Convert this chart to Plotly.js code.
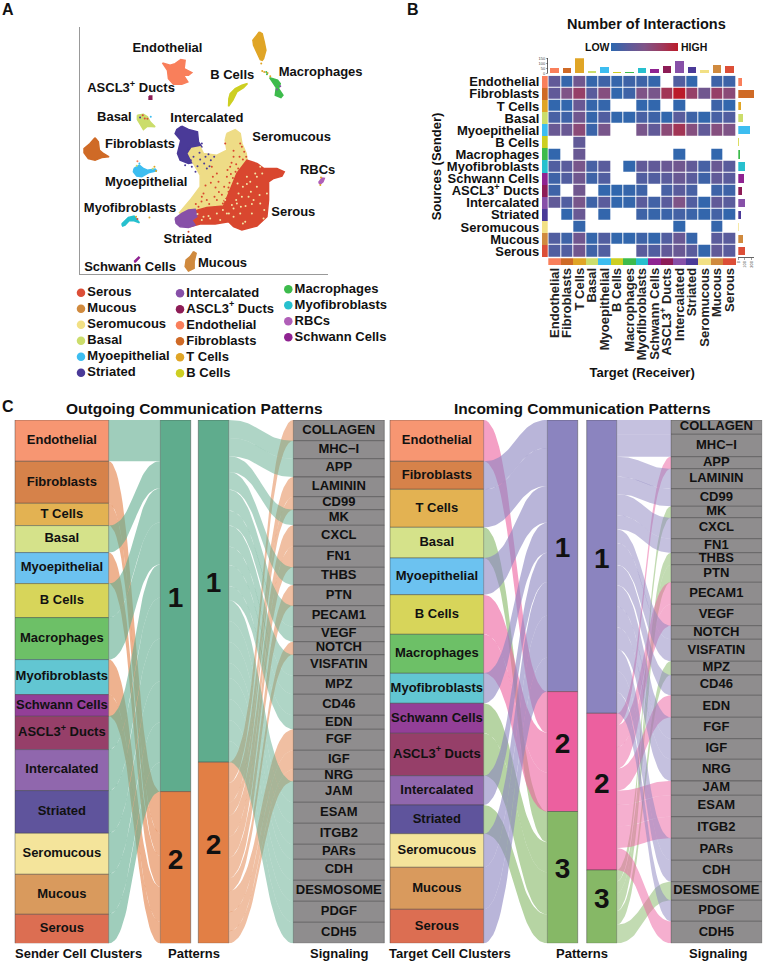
<!DOCTYPE html>
<html><head><meta charset="utf-8"><script src="https://cdn.plot.ly/plotly-3.0.1.min.js"></script>
<style>html,body{margin:0;padding:0;background:#fff}#c{width:764px;height:963px}</style></head>
<body><div id="c"></div>
<script>
// ---------- shared names ----------
const clusters = ['Endothelial','Fibroblasts','T Cells','Basal','Myoepithelial','B Cells','Macrophages','Myofibroblasts','Schwann Cells','ASCL3<sup>+</sup> Ducts','Intercalated','Striated','Seromucous','Mucous','Serous'];
const clusterColors = ['#F97F5B','#CF6A26','#E0A526','#CBDD6B','#3DBDF0','#CDCF22','#3DBB4C','#27C0CE','#8F2391','#8D1C56','#8750A8','#4A3A98','#F2E084','#D08A3E','#DC4E37'];
// ---------- Panel C values ----------
const nodeColors = ['#F79672','#D6824A','#E3B252','#D5E28A','#6CC2F0','#D7D55A','#6DC067','#62C6D2','#933F98','#963F69','#9067AD','#5F549C','#F4E49B','#D99A5D','#DC6E52'];
const senderValues = [41.3,42,22.3,27,31,34,42,35,21.7,33.3,41,42.7,41,40,29.3];
const senderPattern = [1,2,2,1,2,1,1,2,2,1,1,1,1,1,1];
const targetValues = [41.3,28,38,30.7,36.7,39.6,39,30,30,42.4,29.3,28.7,33.6,42,34];
const targetPattern = [2,1,1,3,1,2,2,1,3,3,1,3,1,1,1];
const signaling = ['COLLAGEN','MHC\u2212I','APP','LAMININ','CD99','MK','CXCL','FN1','THBS','PTN','PECAM1','VEGF','NOTCH','VISFATIN','MPZ','CD46','EDN','FGF','IGF','NRG','JAM','ESAM','ITGB2','PARs','CDH','DESMOSOME','PDGF','CDH5'];
const outSignalValues = [20.7,18,18.3,19.7,13,15.6,21,21,17.7,20.7,21,15,13,21,18.6,21,14,21,19,12,21,21,21,15,21,21,21,21];
const outSignalPattern = [2,1,1,2,2,1,2,2,1,2,1,1,2,1,1,1,1,2,2,2,1,1,1,1,1,1,1,1];
const inSignalValues = [14.3,22.4,12,20,17.6,11.4,21,14,12,17.6,22,21.4,13.6,22,13.7,20.3,22,21.4,20.6,21.7,14.3,21.4,21.6,22,21.4,18.6,21,22];
const inSignalPattern = [1,1,2,1,1,3,1,1,3,3,2,2,1,1,3,1,2,1,1,1,2,2,2,1,1,3,1,2];
const outPatternColors = ['#5FAC8D','#E27F45'];
const inPatternColors = ['#8B84BF','#EC609F','#86B866'];
const signalColor = '#8F8D8E';
// ---------- Panel B values ----------
const _ = null;
const interactions = [
 [3,0.5,4,0.5,1,0.5,1,1,0.5,_,2,0.3,_,1,1],
 [3,5,7,2.5,5.5,0.3,1,5,4.5,8,10,7,4,7,6],
 [0.3,0.3,3.5,0.5,0.5,_,_,0.3,0.3,_,0.3,_,_,1,0.3],
 [1.5,1,4,0.5,2,0.3,0.3,1.5,1,0.3,2.5,1,0.3,1.5,2],
 [3.5,3.5,6,0.8,4.5,_,_,4.5,3,6,8,5.5,3,5.5,5],
 [_,_,3,_,_,_,_,_,_,_,_,_,_,_,_],
 [0.3,_,3.5,_,_,_,_,_,_,_,0.3,_,_,0.3,_],
 [2,2.5,4.5,1.5,2.5,_,0.3,3,3,3.5,4,3,1.5,3.5,2.5],
 [1,2,4,1,2,_,_,2,2,2.5,3.5,2.5,1,3,2.5],
 [1,_,4,_,0.3,0.2,0.5,1,_,1.5,2.5,1.5,_,1,1],
 [3,2,4.5,1,2.5,0.3,0.5,2.5,1.2,2.5,5,2,0.4,3,2.5],
 [_,0.3,3.5,_,0.4,_,_,1,0.6,0.8,1.3,0.8,0.4,1.3,0.4],
 [_,_,0.5,_,_,_,_,_,_,_,0.3,_,_,0.5,_],
 [2,1,4,0.5,2,0.3,0.3,1,0.4,2,3.5,0.6,_,2.5,2.5],
 [2,2,4,1,2,_,_,2.5,2,3,3.5,2.5,0.4,3,2.5]];
const incomingTotals = [50,50,150,27,60,13,17,53,40,77,120,63,30,80,70];
const outgoingTotals = [60,235,35,65,170,15,20,95,80,50,95,40,10,65,95];
// ---------- Panel A values (UMAP outlines) ----------
const umapNames = ['Striated','Seromucous','Serous','Intercalated','T Cells','Endothelial','B Cells','Macrophages','ASCL3+ Ducts','Basal','Fibroblasts','Myoepithelial','Myofibroblasts','Schwann Cells','Mucous','RBCs'];
const umapColors = ['#4A3A98','#EEDC86','#D9472F','#8750A8','#E0A526','#F97F5B','#CDCF22','#3DBB4C','#8D1C56','#CBDD6B','#CF6A26','#3DBDF0','#27C0CE','#8F2391','#D08A3E','#B05FB8'];
const umapX = [
 [365,385,412,415,425,405,385,395,410,385,360,352,362,345,350],
 [500,525,540,545,558,562,560,520,420,370,358,390,420,420,400,385,395,420,430,470,500,495],
 [590,610,650,672,665,640,625,625,620,590,545,520,505,465,420,390,385,405,405,440,490,510,530,560],
 [345,365,385,405,410,395,405,385,360,348],
 [597,606,612,617,610,606,600,592,580,578,588],
 [307,330,345,362,375,372,395,385,370,383,365,340,325,322],
 [562,550,530,518,505,506,510,525,545],
 [628,652,660,655,668,662,645,648,640],
 [267,275,275,267],
 [232,250,262,270,285,262,250,240,232],
 [105,115,118,130,147,125,105,85,72,72,90],
 [222,238,250,262,285,290,265,245,230,220],
 [185,205,222,235,238,222,207,195,188],
 [222,236,238,226],
 [400,408,402,402,385,375,378,390],
 [775,785,792,788,780]];
const umapY = [
 [378,388,395,425,440,445,450,470,485,490,480,460,420,400,388],
 [400,388,400,430,460,490,540,640,650,650,638,600,560,525,490,460,445,440,460,465,450,420],
 [490,505,505,515,528,535,545,600,650,678,690,680,665,672,672,680,675,655,632,622,618,570,520,480],
 [655,640,630,628,650,660,675,682,680,670],
 [95,100,125,150,175,180,178,160,135,120,108],
 [188,195,190,178,180,205,217,225,225,245,252,252,235,210],
 [250,262,275,300,318,295,280,265,255],
 [232,240,250,265,285,292,285,262,250],
 [287,287,297,297],
 [345,342,350,365,380,378,388,370,358],
 [413,425,450,460,470,472,480,475,458,445,430],
 [505,495,505,510,507,512,518,530,528,515],
 [672,652,648,662,668,662,662,675,678],
 [785,771,773,786],
 [755,760,785,805,813,800,780,770],
 [547,534,535,545,552]];
const redSpeckX = [430,452,470,488,505,495,520,540,552,470,440,415,500,545,510,530,480,455,385,383,476,492,508,463,447,518,526,498,485,436,424,458,502,514,538,548,558,534,475,466,492,512,505,528,425,407,520];
const redSpeckY = [580,548,520,610,575,430,470,430,455,600,600,620,530,440,500,590,640,500,695,708,576,560,548,590,612,534,515,596,584,556,604,530,510,488,470,478,470,505,545,562,602,522,562,492,590,612,452];
const yellowSpeckX = [560,590,600,575,540,610,530,565,585,480,450,520,620,555,600,548,500,430,495,535,548,560,572,528,542,556,520,515,580,598,570,612,506,488,470,445,425,412,532,590,606,575,545];
const yellowSpeckY = [530,560,610,640,640,655,610,590,520,660,655,650,580,665,500,670,640,650,600,580,560,552,575,600,620,618,625,615,600,585,545,630,640,630,640,648,660,642,550,530,520,612,590];
const indigoSpeckX = [400,420,432,445,412,395,385,440,425,375,452,418,406,392,436,448,462];
const indigoSpeckY = [470,478,490,462,498,500,445,505,430,495,480,458,515,480,470,498,470];
const mixedSpeckX = [603,606,618,630,660,782,780,240,248,262,272,232,230,283,228,232,268,650,622,238,254,278,288,620,612];
const mixedSpeckY = [190,212,215,228,258,532,555,352,345,356,350,483,497,500,650,657,652,268,218,490,355,506,513,222,215];
const mixedSpeckC = ['#E0A526','#E0A526','#3DBB4C','#E0A526','#8750A8','#E0A526','#E0A526','#4A3A98','#DC4E37','#DC4E37','#3DBDF0','#F97F5B','#CBDD6B','#E0A526','#E0A526','#DC4E37','#E0A526','#8750A8','#E0A526','#3DBDF0','#DC4E37','#CBDD6B','#E0A526','#3DBB4C','#E0A526'];
const umapLabels = ['T Cells','Endothelial','B Cells','Macrophages','ASCL3<sup>+</sup> Ducts','Basal','Intercalated','Fibroblasts','Seromucous','RBCs','Myoepithelial','Myofibroblasts','Serous','Striated','Schwann Cells','Mucous'];
const umapLabelX = [572,322,516,781,213,163,440,240,694,772,258,210,699,383,210,487];
const umapLabelY = [68,146,225,218,267,353,357,433,414,512,547,627,639,719,802,790];
// ---------- Legend ----------
const legendCol1 = ['Serous','Mucous','Seromucous','Basal','Myoepithelial','Striated'];
const legendCol2 = ['Intercalated','ASCL3<sup>+</sup> Ducts','Endothelial','Fibroblasts','T Cells','B Cells'];
const legendCol3 = ['Macrophages','Myofibroblasts','RBCs','Schwann Cells'];
const legendColors1 = ['#DC4E37','#D08A3E','#F2E084','#CBDD6B','#3DBDF0','#4A3A98'];
const legendColors2 = ['#8750A8','#8D1C56','#F97F5B','#CF6A26','#E0A526','#CDCF22'];
const legendColors3 = ['#3DBB4C','#27C0CE','#B05FB8','#8F2391'];

// ---------- helpers ----------
const W=764,H=963,FF='Liberation Sans, Arial, sans-serif';
const dx=(a,b)=>[a/W,b/W], dy=(a,b)=>[1-b/H,1-a/H];
const bold=(s,c)=>({family:FF,size:s,color:c||'#111',weight:700});
const traces=[];
const rgba=(h,a)=>{const n=parseInt(h.slice(1),16);return `rgba(${n>>16},${(n>>8)&255},${n&255},${a})`;};
const stack=v=>{let s=0;return v.map(d=>{const r=s;s+=d;return r;});};

function nodeBar(xl,xr,base,vals,cols,labels,size){
  traces.push({type:'bar',xaxis:'x7',yaxis:'y7',x:vals.map(()=>(xl+xr)/2),width:vals.map(()=>xr-xl),base:base,y:vals,
    marker:{color:cols,line:{color:'rgba(60,60,60,0.55)',width:0.8}},hoverinfo:'skip',showlegend:false});
  traces.push({type:'scatter',mode:'text',xaxis:'x7',yaxis:'y7',x:vals.map(()=>(xl+xr)/2),
    y:vals.map((d,i)=>base[i]+d/2-(size>20?6:0)),text:labels,textfont:bold(size),textposition:'middle center',cliponaxis:false,hoverinfo:'skip',showlegend:false});
}
function bez(t){const m=1-t;return [3*m*m*t*0.5+3*m*t*t*0.5+t*t*t,3*m*t*t+t*t*t];}
function ribbon(xa,xb,a0,a1,b0,b1,color){
  const N=36,px=[],py=[];
  for(let i=0;i<=N;i++){const u=bez(i/N);px.push(xa+(xb-xa)*u[0]);py.push(a0+(b0-a0)*u[1]);}
  for(let i=N;i>=0;i--){const u=bez(i/N);px.push(xa+(xb-xa)*u[0]);py.push(a1+(b1-a1)*u[1]);}
  traces.push({type:'scatter',mode:'lines',xaxis:'x7',yaxis:'y7',x:px,y:py,fill:'toself',fillcolor:color,line:{width:0},hoverinfo:'skip',showlegend:false});
}
function alluvial(nodeVals,nodePat,nodeCols,nodeLabels,nodeXL,nodeXR,patXL,patXR,patColors,alpha,nodeOnLeft){
  const starts=stack(nodeVals);
  const patTot=patColors.map((_c,p)=>nodeVals.reduce((s,v,i)=>s+(nodePat[i]===p+1?v:0),0));
  const patStart=stack(patTot);const cursor=patStart.slice();
  nodeVals.forEach((v,i)=>{const p=nodePat[i]-1,s=cursor[p];cursor[p]+=v;
    if(nodeOnLeft) ribbon(nodeXR,patXL,starts[i],starts[i]+v,s,s+v,rgba(patColors[p],alpha));
    else ribbon(patXR,nodeXL,s,s+v,starts[i],starts[i]+v,rgba(patColors[p],alpha));
  });
  nodeBar(nodeXL,nodeXR,starts,nodeVals,nodeCols,nodeLabels,13);
  nodeBar(patXL,patXR,patStart,patTot,patColors,patColors.map((_c,p)=>String(p+1)),28);
}
// ---------- Panel A traces ----------
umapNames.forEach((n,i)=>traces.push({type:'scatter',mode:'lines',name:n,x:umapX[i].concat(umapX[i][0]),y:umapY[i].concat(umapY[i][0]),
  fill:'toself',fillcolor:umapColors[i],line:{color:umapColors[i],width:1.5},hoverinfo:'name',showlegend:false}));
[[redSpeckX,redSpeckY,'#D9472F'],[yellowSpeckX,yellowSpeckY,'#F2E6A6'],[indigoSpeckX,indigoSpeckY,'#4A3A98'],[mixedSpeckX,mixedSpeckY,mixedSpeckC]].forEach(s=>
  traces.push({type:'scatter',mode:'markers',x:s[0],y:s[1],marker:{size:2,color:s[2]},hoverinfo:'skip',showlegend:false}));
traces.push({type:'scatter',mode:'text',x:umapLabelX,y:umapLabelY,text:umapLabels,textfont:bold(13),cliponaxis:false,hoverinfo:'skip',showlegend:false});
// ---------- Legend traces ----------
function legendCol(names,cols,xDot,yTop){
  const xs=names.map(()=>xDot),ys=names.map((_n,i)=>yTop+16*i);
  traces.push({type:'scatter',mode:'markers+text',xaxis:'x8',yaxis:'y8',x:xs,y:ys,text:names,textposition:'middle right',textfont:bold(13),
    marker:{size:8.5,color:cols},cliponaxis:false,hoverinfo:'skip',showlegend:false});
}
legendCol(legendCol1,legendColors1,81,292.7);
legendCol(legendCol2,legendColors2,180,293.3);
legendCol(legendCol3,legendColors3,288.3,289.3);
// ---------- Panel B traces ----------
traces.push({type:'heatmap',xaxis:'x2',yaxis:'y2',x:clusters,y:clusters,z:interactions,xgap:1,ygap:1,zmin:0,zmax:10,hoverongaps:false,
  colorscale:[[0,'#2C68AF'],[0.25,'#5A5C9C'],[0.5,'#7F5487'],[0.75,'#9C3B60'],[1,'#BB1B2A']],
  colorbar:{orientation:'h',lenmode:'pixels',len:67,thickness:7.5,xpad:0,ypad:0,x:644.8/W,xanchor:'center',y:1-50.7/H,yanchor:'bottom',outlinewidth:0,showticklabels:false,ticks:''}});
traces.push({type:'bar',xaxis:'x3',yaxis:'y3',x:clusters,y:incomingTotals,width:0.68,marker:{color:clusterColors},hoverinfo:'x+y',showlegend:false});
traces.push({type:'bar',orientation:'h',xaxis:'x4',yaxis:'y4',y:clusters,x:outgoingTotals,width:0.68,marker:{color:clusterColors},hoverinfo:'x+y',showlegend:false});
traces.push({type:'bar',orientation:'h',xaxis:'x5',yaxis:'y5',y:clusters,x:clusters.map(()=>1),width:1,marker:{color:clusterColors},hoverinfo:'skip',showlegend:false});
traces.push({type:'bar',xaxis:'x6',yaxis:'y6',x:clusters,y:clusters.map(()=>1),width:1,marker:{color:clusterColors},hoverinfo:'skip',showlegend:false});
// ---------- Panel C traces ----------
alluvial(senderValues,senderPattern,nodeColors,clusters,15,108.7,160.3,190.7,outPatternColors,0.6,true);
alluvial(outSignalValues,outSignalPattern,signaling.map(()=>signalColor),signaling,293.3,384.3,198.3,228.7,outPatternColors,0.5,false);
alluvial(targetValues,targetPattern,nodeColors,clusters,390,483.7,547.3,577.7,inPatternColors,0.6,true);
alluvial(inSignalValues,inSignalPattern,signaling.map(()=>signalColor),signaling,671,761.7,586.7,616.7,inPatternColors,0.5,false);

const ann=(t,x,y,s,o)=>Object.assign({text:t,x:x/W,y:1-y/H,xref:'paper',yref:'paper',showarrow:false,font:bold(s),xanchor:'center',yanchor:'middle'},o||{});
const cat={type:'category',categoryorder:'array',categoryarray:clusters,tickmode:'array',tickvals:clusters,ticktext:clusters};
const layout={width:W,height:H,margin:{l:0,r:0,t:0,b:0},paper_bgcolor:'#fff',plot_bgcolor:'rgba(0,0,0,0)',showlegend:false,barmode:'overlay',bargap:0,
  font:{family:FF},
  xaxis:{domain:dx(80,328),range:[60,803],showgrid:false,zeroline:false,showticklabels:false,ticks:'',showline:true,linecolor:'#999',linewidth:1,anchor:'y'},
  yaxis:{domain:dy(27,274.3),range:[823,80],showgrid:false,zeroline:false,showticklabels:false,ticks:'',showline:true,linecolor:'#999',linewidth:1,anchor:'x'},
  xaxis2:Object.assign({},cat,{domain:dx(548.3,736),range:[-0.5,14.5],anchor:'y2',showgrid:false,zeroline:false,ticks:'',tickangle:-90,tickfont:bold(13,'#222'),ticklabelstandoff:7,
    title:{text:'Target (Receiver)',font:bold(13),standoff:8}}),
  yaxis2:Object.assign({},cat,{domain:dy(75.7,257.3),range:[14.5,-0.5],anchor:'x2',showgrid:false,zeroline:false,ticks:'',tickfont:bold(13),ticklabelstandoff:8,
    title:{text:'Sources (Sender)',font:bold(13),standoff:2}}),
  xaxis3:{type:'category',categoryorder:'array',categoryarray:clusters,domain:dx(548.3,736),range:[-0.5,14.5],anchor:'y3',showticklabels:false,ticks:'',showgrid:false,zeroline:false},
  yaxis3:{domain:dy(58.3,73.3),range:[0,150],anchor:'x3',tickvals:[0,50,100,150],ticks:'outside',ticklen:1.5,tickwidth:0.5,showline:true,linewidth:0.7,linecolor:'#222',tickfont:{family:FF,size:4,color:'#444'},showgrid:false,zeroline:false},
  xaxis4:{domain:dx(738.3,754.3),range:[0,240],anchor:'y4',tickvals:[0,100,200],ticks:'outside',ticklen:1.5,tickwidth:0.5,showline:true,linewidth:0.7,linecolor:'#222',tickfont:{family:FF,size:4,color:'#444'},tickangle:-90,showgrid:false,zeroline:false},
  yaxis4:{type:'category',categoryorder:'array',categoryarray:clusters,domain:dy(75.7,257.3),range:[14.5,-0.5],anchor:'x4',showticklabels:false,ticks:'',showgrid:false,zeroline:false},
  xaxis5:{domain:dx(541.7,547.7),range:[0,1],anchor:'y5',visible:false},
  yaxis5:{type:'category',categoryorder:'array',categoryarray:clusters,domain:dy(75.7,257.3),range:[14.5,-0.5],anchor:'x5',visible:false},
  xaxis6:{type:'category',categoryorder:'array',categoryarray:clusters,domain:dx(548.3,736),range:[-0.5,14.5],anchor:'y6',visible:false},
  yaxis6:{domain:dy(258.3,265),range:[0,1],anchor:'x6',visible:false},
  xaxis7:{domain:[0,1],range:[0,W],anchor:'y7',visible:false},
  yaxis7:{domain:dy(420,943.3),range:[523.3,0],anchor:'x7',visible:false},
  xaxis8:{domain:[0,1],range:[0,W],anchor:'y8',visible:false},
  yaxis8:{domain:dy(280,385),range:[385,280],anchor:'x8',visible:false},
  annotations:[
    ann('A',8,9,16),ann('B',413,9,16),ann('C',8,406,16),
    ann('Number of Interactions',646.7,24,14.5),
    ann('LOW',597,47,10.5),ann('HIGH',694,47,10.5),
    ann('Outgoing Communication Patterns',194,408,15.5),
    ann('Incoming Communication Patterns',582,408,15.5),
    ann('Sender Cell Clusters',78,953.5,13),ann('Patterns',194,953.5,13),ann('Signaling',339,953.5,13),
    ann('Target Cell Clusters',450,953.5,13),ann('Patterns',581.7,953.5,13),ann('Signaling',718,953.5,13)
  ]};
Plotly.newPlot('c',traces,layout,{displayModeBar:false,staticPlot:true});
</script></body></html>
